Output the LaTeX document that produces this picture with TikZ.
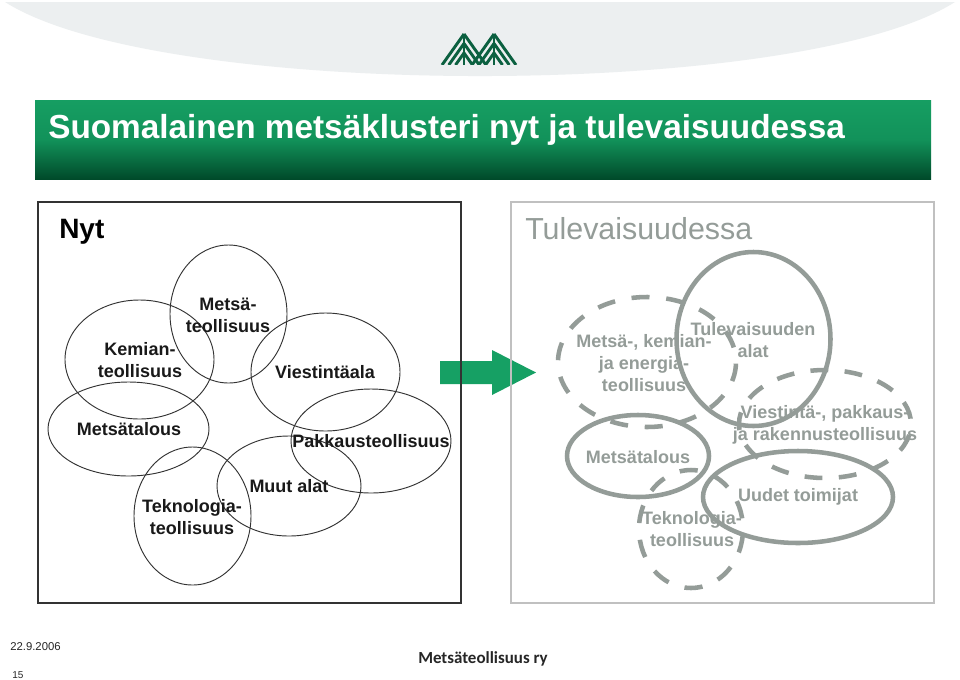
\documentclass[tikz,border=0pt]{standalone}
\usepackage{fontspec}
\setmainfont{Liberation Sans}
\newfontfamily\brandfont{Carlito}
\usetikzlibrary{shapes.geometric}
\definecolor{headgray}{HTML}{ECEFF0}
\definecolor{topgreen}{HTML}{169E62}
\definecolor{midgreen}{HTML}{12925A}
\definecolor{darkgreen}{HTML}{004A2A}
\definecolor{logogreen}{HTML}{0B6040}
\definecolor{arrowgreen}{HTML}{16A064}
\definecolor{mutegray}{HTML}{949C98}
\definecolor{panelgray}{HTML}{C0C0C0}
\tikzset{
  x=0.75pt,y=-0.75pt,
  thinell/.style={draw=black!80,line width=0.7pt,ellipse,inner sep=0pt},
  solidell/.style={draw=mutegray,line width=3.4pt,ellipse,inner sep=0pt},
  blackt/.style={font=\fontsize{13.5}{16.5}\selectfont\bfseries,text=black!90,align=center,inner sep=0pt},
  grayt/.style={font=\fontsize{13.5}{16.5}\selectfont\bfseries,text=mutegray,align=center,inner sep=0pt},
  logobar/.style={draw=logogreen,line width=2.2pt}
}
\newcommand{\ellnode}[6]{\node[#1,minimum width=#4*1.5pt,minimum height=#5*1.5pt] (#6) at (#2,#3) {};}
\begin{document}
\begin{tikzpicture}
\useasboundingbox (0,0) rectangle (960,679);
\fill[white] (0,0) rectangle (960,679);
% header
\fill[headgray] (5,2) -- (955,2) .. controls (800,100.7) and (160,100.7) .. cycle;
% logo
\begin{scope}
\clip (435,30) rectangle (525,64);
\foreach \cx in {464,494}{
  \draw[logobar] (\cx,34) -- (\cx,66);
  \foreach \k in {0,1,2}{
    \draw[logobar] (\cx,34+\k*9.5) -- ({\cx-(31-\k*9.5)*22/31},65);
    \draw[logobar] (\cx,34+\k*9.5) -- ({\cx+(31-\k*9.5)*22/31},65);
  }
}
\end{scope}
% title band
\shade[top color=topgreen,bottom color=darkgreen,middle color=midgreen] (35,100) rectangle (931,179);
\node[anchor=west,inner sep=0pt,text=white,font=\fontsize{25}{28}\selectfont\bfseries] (title) at (48,129.5) {Suomalainen metsäklusteri nyt ja tulevaisuudessa};
% arrow lies under the panel outlines
\fill[arrowgreen] (440,361) -- (492,361) -- (492,350) -- (536,372.5) -- (492,395) -- (492,384) -- (440,384) -- cycle;
% panels
\draw[black!80,line width=0.9pt] (38,202) rectangle (461,603);
\draw[panelgray,line width=1.5pt] (511,202) rectangle (934,603);
\node[anchor=west,inner sep=0pt,font=\fontsize{21}{24}\selectfont\bfseries] (nyt) at (59,232) {Nyt};
\node[anchor=west,inner sep=0pt,text=mutegray,font=\fontsize{22.8}{26}\selectfont] (tul) at (525,229) {Tulevaisuudessa};
% left ellipses
\ellnode{thinell}{139.5}{359.5}{74.5}{59.5}{a}
\ellnode{thinell}{228.5}{314}{58.5}{69}{b}
\ellnode{thinell}{325.5}{372}{74.5}{59}{c}
\ellnode{thinell}{371}{441}{80}{52}{d}
\ellnode{thinell}{128.5}{429}{80.5}{47}{e}
\ellnode{thinell}{192.5}{516}{58.5}{69}{f}
\ellnode{thinell}{289}{486}{72}{50}{g}
\node[blackt] (ta) at (140,360) {Kemian-\\teollisuus};
\node[blackt] (tb) at (228,315) {Metsä-\\teollisuus};
\node[blackt] (tc) at (325,372) {Viestintäala};
\node[blackt] (td) at (371,441) {Pakkausteollisuus};
\node[blackt] (te) at (129,429) {Metsätalous};
\node[blackt] (tf) at (192,517) {Teknologia-\\teollisuus};
\node[blackt] (tg) at (289,486) {Muut alat};
% right: text first where outlines cross it
\node[grayt] (tm) at (644,363) {Metsä-, kemian-\\ja energia-\\teollisuus};
\ellnode{solidell,dash pattern=on 13.5pt off 12.6pt,dash phase=15pt}{647}{362}{89}{65}{m}
\ellnode{solidell}{753.5}{339}{77}{87}{n}
\ellnode{solidell,dash pattern=on 13.4pt off 12.3pt,dash phase=21.7pt}{825}{424}{86}{54}{o}
\ellnode{solidell}{638}{456}{71}{41}{p}
\ellnode{solidell,dash pattern=on 13.6pt off 12.6pt,dash phase=18.2pt}{691}{529}{52}{59}{q}
\ellnode{solidell}{798}{497}{95}{46}{r}
\node[grayt] (tn) at (753,340) {Tulevaisuuden\\alat};
\node[grayt] (to) at (825,425) {Viestintä-, pakkaus-\\ja rakennusteollisuus};
\node[grayt] (tp) at (638,457) {Metsätalous};
\node[grayt] (tq) at (692,529) {Teknologia-\\teollisuus};
\node[grayt] (tr) at (798,497) {Uudet toimijat};
% footer
\node[anchor=west,inner sep=0pt,font=\fontsize{8.5}{11}\selectfont,text=black!85] (date) at (10,647) {22.9.2006};
\node[anchor=west,inner sep=0pt,font=\fontsize{7.5}{9}\selectfont,text=black!85] (num) at (12,675) {15};
\node[anchor=west,inner sep=0pt,font=\brandfont\fontsize{12.7}{15}\selectfont\bfseries,text=black!85] (brand) at (418,659) {Metsäteollisuus ry};
\end{tikzpicture}
\end{document}
